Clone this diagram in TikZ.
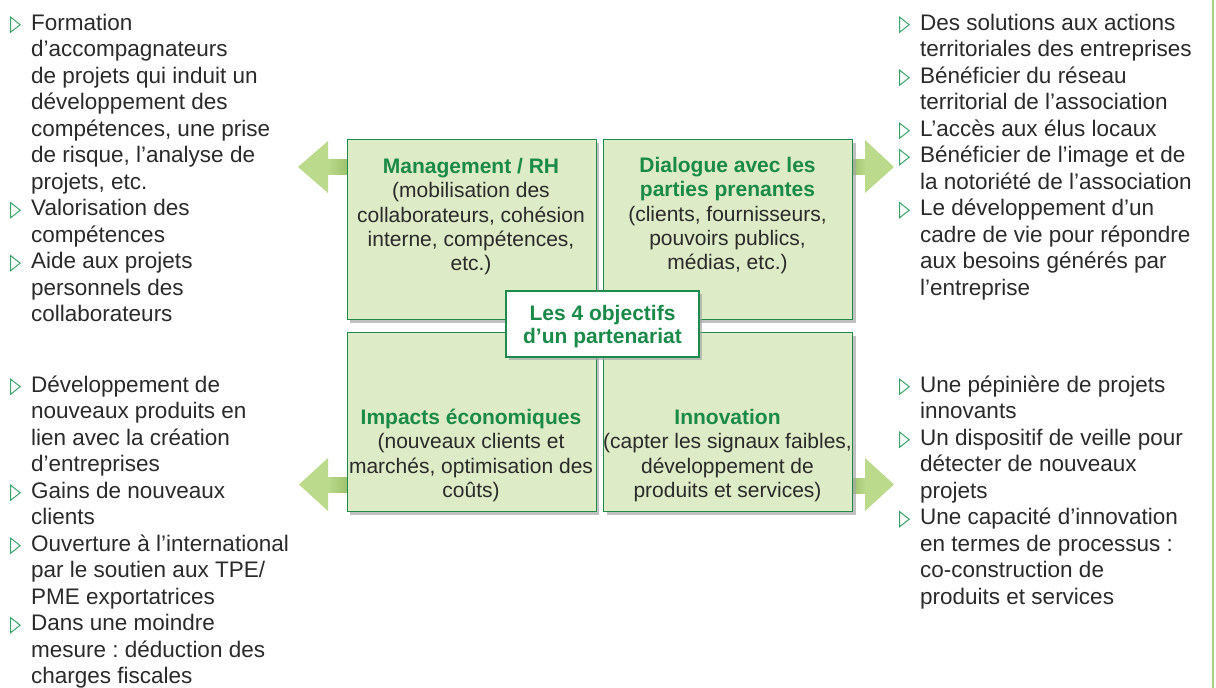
\documentclass[tikz,border=0pt]{standalone}
\usepackage{fontspec}
\setmainfont{Liberation Sans}
\usetikzlibrary{shadows}
\frenchspacing
\definecolor{boxfill}{HTML}{DDEBC6}
\definecolor{boxdraw}{HTML}{1E8A4C}
\definecolor{titlecol}{HTML}{1A8A48}
\definecolor{txtcol}{HTML}{2A2A2A}
\definecolor{arrowcol}{HTML}{BCDA8C}
\definecolor{shaftcol}{HTML}{9CC26C}
\definecolor{bulcol}{HTML}{3AA56B}
\definecolor{edgecol}{HTML}{A9D17F}
\newcommand{\tri}{\tikz[baseline=0pt,x=1pt,y=1pt]\draw[bulcol,line width=1pt,line join=miter] (0,-2) -- (0,13) -- (9.5,5.5) -- cycle;}
\newcommand{\itm}{\makebox[0pt][r]{\tri\hspace{10.5pt}}}
\newcommand{\ttl}[1]{\textcolor{titlecol}{\bfseries #1}}
\tikzset{
  qbox/.style={draw=boxdraw, fill=boxfill, line width=1.2pt, inner sep=0pt,
    anchor=north west, drop shadow={shadow xshift=3pt, shadow yshift=-3pt, fill=black!35, opacity=0.7}},
  boxtxt/.style={anchor=north, inner sep=0pt, align=center, text=txtcol,
    font=\fontsize{21}{24.4}\selectfont},
  listtxt/.style={anchor=north west, inner sep=0pt, align=left, text=txtcol,
    font=\fontsize{22.5}{26.5}\selectfont},
  headshape/.style={fill=arrowcol}
}
\begin{document}
\begin{tikzpicture}[x=1pt, y=-1pt]
\useasboundingbox (0,0) rectangle (1216,688);
\fill[white] (0,0) rectangle (1216,688);
\draw[edgecol, line width=2pt] (1213,0) -- (1213,688);

% arrows
\shade[left color=arrowcol, right color=shaftcol] (327,159) rectangle (348,174);
\fill[headshape] (328,141) -- (298,167) -- (328,193) -- cycle;
\shade[left color=shaftcol, right color=arrowcol] (851,159) rectangle (866,174);
\fill[headshape] (865,140) -- (894,167) -- (865,193) -- cycle;
\shade[left color=arrowcol, right color=shaftcol] (327,477) rectangle (348,492);
\fill[headshape] (328,458) -- (299,484.5) -- (328,511) -- cycle;
\shade[left color=shaftcol, right color=arrowcol] (851,478) rectangle (866,493);
\fill[headshape] (865,458) -- (894,484.5) -- (865,511) -- cycle;

% boxes
\node[qbox, minimum width=249pt, minimum height=180pt] (mgmt) at (346.5,139) {};
\node[qbox, minimum width=249pt, minimum height=180pt] (dial) at (603,139) {};
\node[qbox, minimum width=249pt, minimum height=179pt] (eco) at (346.5,332) {};
\node[qbox, minimum width=249pt, minimum height=179pt] (innov) at (603,332) {};

\node[boxtxt] (mgmt-t) at (471,156) {\rule{0pt}{17pt}\ttl{Management / RH}\\(mobilisation des\\collaborateurs, cohésion\\interne, compétences,\\etc.)};
\node[boxtxt] (dial-t) at (727.5,155) {\rule{0pt}{17pt}\ttl{Dialogue avec les}\\\ttl{parties prenantes}\\(clients, fournisseurs,\\pouvoirs publics,\\médias, etc.)};
\node[boxtxt] (eco-t) at (471,407) {\rule{0pt}{17pt}\ttl{Impacts économiques}\\(nouveaux clients et\\marchés, optimisation des\\coûts)};
\node[boxtxt] (innov-t) at (727.5,407) {\rule{0pt}{17pt}\ttl{Innovation}\\(capter les signaux faibles,\\développement de\\produits et services)};

% centre
\node[draw=boxdraw, fill=white, line width=1.2pt, minimum width=193pt, minimum height=66pt,
  align=center, text=titlecol, font=\fontsize{21}{23.5}\selectfont\bfseries,
  drop shadow={shadow xshift=3pt, shadow yshift=-3pt, fill=black!35, opacity=0.7}]
  (ctr) at (602.5,324) {\rule{0pt}{20pt}Les 4 objectifs\\d’un partenariat};

% lists
\node[listtxt] (lt) at (31,12) {\rule{0pt}{18pt}\itm Formation\\
d’accompagnateurs\\
de projets qui induit un\\
développement des\\
compétences, une prise\\
de risque, l’analyse de\\
projets, etc.\\
\itm Valorisation des\\
compétences\\
\itm Aide aux projets\\
personnels des\\
collaborateurs};

\node[listtxt] (lb) at (31,374) {\rule{0pt}{18pt}\itm Développement de\\
nouveaux produits en\\
lien avec la création\\
d’entreprises\\
\itm Gains de nouveaux\\
clients\\
\itm Ouverture à l’international\\
par le soutien aux TPE/\\
PME exportatrices\\
\itm Dans une moindre\\
mesure : déduction des\\
charges fiscales};

\node[listtxt] (rt) at (920,12) {\rule{0pt}{18pt}\itm Des solutions aux actions\\
territoriales des entreprises\\
\itm Bénéficier du réseau\\
territorial de l’association\\
\itm L’accès aux élus locaux\\
\itm Bénéficier de l’image et de\\
la notoriété de l’association\\
\itm Le développement d’un\\
cadre de vie pour répondre\\
aux besoins générés par\\
l’entreprise};

\node[listtxt] (rb) at (920,374) {\rule{0pt}{18pt}\itm Une pépinière de projets\\
innovants\\
\itm Un dispositif de veille pour\\
détecter de nouveaux\\
projets\\
\itm Une capacité d’innovation\\
en termes de processus :\\
co-construction de\\
produits et services};
\end{tikzpicture}
\end{document}
